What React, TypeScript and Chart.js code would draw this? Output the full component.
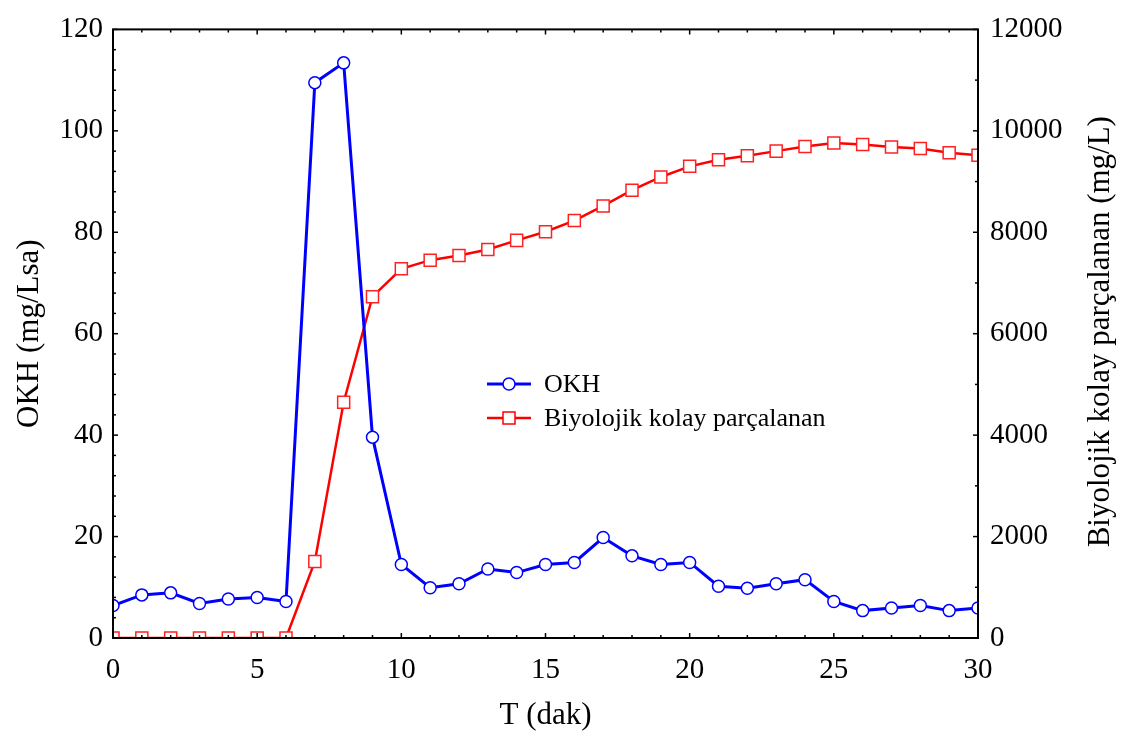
import { useEffect, useRef } from "react";
import { Chart, registerables } from "chart.js";

Chart.register(...registerables);

const times = [0, 1, 2, 3, 4, 5, 6, 7, 8, 9, 10, 11, 12, 13, 14, 15, 16, 17, 18, 19, 20, 21, 22, 23, 24, 25, 26, 27, 28, 29, 30];
const okh = [6.4, 8.5, 8.9, 6.8, 7.7, 8.0, 7.2, 109.5, 113.4, 39.6, 14.5, 9.9, 10.7, 13.6, 12.9, 14.5, 14.9, 19.8, 16.2, 14.5, 14.9, 10.2, 9.8, 10.7, 11.5, 7.2, 5.4, 5.9, 6.4, 5.4, 5.9];
const biyo = [0, 0, 0, 0, 0, 0, 0, 1510, 4650, 6730, 7280, 7450, 7540, 7660, 7840, 8010, 8230, 8520, 8830, 9090, 9300, 9430, 9510, 9600, 9690, 9760, 9730, 9680, 9650, 9570, 9520];

const seriesNames = ["OKH", "Biyolojik kolay parçalanan"];
const xTitle = "T (dak)";
const yTitle = "OKH (mg/Lsa)";
const y1Title = "Biyolojik kolay parçalanan (mg/L)";

const xRange = [0, 30, 5, 1];
const yRange = [0, 120, 20, 4];
const y1Range = [0, 12000, 2000, 1000];

const FONT = "'Liberation Serif', 'Times New Roman', serif";

const framePlugin = {
  id: "frame",
  afterDraw(chart: any) {
    const { ctx, chartArea: a, scales } = chart;
    ctx.save();
    ctx.strokeStyle = "#000";
    ctx.lineWidth = 1.5;
    const drawX = (v: number, len: number) => {
      const px = scales.x.getPixelForValue(v);
      ctx.beginPath();
      ctx.moveTo(px, a.bottom);
      ctx.lineTo(px, a.bottom - len);
      ctx.moveTo(px, a.top);
      ctx.lineTo(px, a.top + len);
      ctx.stroke();
    };
    for (let v = xRange[0]; v <= xRange[1]; v += xRange[3]) {
      drawX(v, v % xRange[2] === 0 ? 5 : 3);
    }
    for (let v = yRange[0]; v <= yRange[1]; v += yRange[3]) {
      const py = scales.y.getPixelForValue(v);
      const len = v % yRange[2] === 0 ? 5 : 3;
      ctx.beginPath();
      ctx.moveTo(a.left, py);
      ctx.lineTo(a.left + len, py);
      ctx.stroke();
    }
    for (let v = y1Range[0]; v <= y1Range[1]; v += y1Range[3]) {
      const py = scales.y1.getPixelForValue(v);
      const len = v % y1Range[2] === 0 ? 5 : 3;
      ctx.beginPath();
      ctx.moveTo(a.right, py);
      ctx.lineTo(a.right - len, py);
      ctx.stroke();
    }
    ctx.lineWidth = 2;
    ctx.strokeRect(a.left, a.top, a.right - a.left, a.bottom - a.top);

    ctx.fillStyle = "#000";
    ctx.font = `31px ${FONT}`;
    ctx.textAlign = "center";
    ctx.textBaseline = "middle";
    ctx.translate(1101, (a.top + a.bottom) / 2 - 2);
    ctx.rotate(-Math.PI / 2);
    ctx.fillText(y1Title, 0, 0);
    ctx.restore();

    ctx.save();
    const rows = [
      { y: 384, color: "#0000ff", shape: "circle", lw: 3 },
      { y: 418, color: "#ff0000", shape: "rect", lw: 2.5 },
    ];
    rows.forEach((r, i) => {
      ctx.strokeStyle = r.color;
      ctx.lineWidth = r.lw;
      ctx.beginPath();
      ctx.moveTo(487, r.y);
      ctx.lineTo(531, r.y);
      ctx.stroke();
      ctx.fillStyle = "#fff";
      ctx.lineWidth = 1.5;
      ctx.beginPath();
      if (r.shape === "circle") {
        ctx.arc(509, r.y, 6, 0, Math.PI * 2);
      } else {
        ctx.rect(503, r.y - 6, 12, 12);
      }
      ctx.fill();
      ctx.stroke();
      ctx.fillStyle = "#000";
      ctx.font = `26px ${FONT}`;
      ctx.textAlign = "left";
      ctx.textBaseline = "middle";
      ctx.fillText(seriesNames[i], 544, r.y + 1);
    });
    ctx.restore();
  },
};

export default function App() {
  const ref = useRef<HTMLCanvasElement | null>(null);
  useEffect(() => {
    if (!ref.current) return;
    const chart = new Chart(ref.current, {
      type: "line",
      data: {
        datasets: [
          {
            label: seriesNames[0],
            data: times.map((t, i) => ({ x: t, y: okh[i] })),
            yAxisID: "y",
            borderColor: "#0000ff",
            borderWidth: 3,
            pointStyle: "circle",
            pointRadius: 6,
            pointBorderWidth: 1.5,
            pointBorderColor: "#0000ff",
            pointBackgroundColor: "#ffffff",
            tension: 0,
            clip: 0,
          },
          {
            label: seriesNames[1],
            data: times.map((t, i) => ({ x: t, y: biyo[i] })),
            yAxisID: "y1",
            borderColor: "#ff0000",
            borderWidth: 2.5,
            pointStyle: "rect",
            pointRadius: 8.5,
            pointBorderWidth: 1.5,
            pointBorderColor: "#ff2020",
            pointBackgroundColor: "#ffffff",
            tension: 0,
            clip: 0,
          },
        ],
      },
      options: {
        animation: false,
        responsive: false,
        devicePixelRatio: 1,
        layout: { padding: { top: 18, left: 0, right: 0, bottom: 0 } },
        plugins: { legend: { display: false }, tooltip: { enabled: false } },
        scales: {
          x: {
            type: "linear",
            position: "bottom",
            min: xRange[0],
            max: xRange[1],
            ticks: { stepSize: xRange[2], color: "#000", padding: 15, font: { family: FONT, size: 29 }, callback: (v: any) => String(v) },
            grid: { display: false, drawTicks: false },
            border: { display: false },
            title: { display: true, text: xTitle, color: "#000", font: { family: FONT, size: 31 }, padding: { top: 0, bottom: 6 } },
            afterFit: (s: any) => { s.height = 102; },
          },
          y: {
            type: "linear",
            position: "left",
            min: yRange[0],
            max: yRange[1],
            ticks: { stepSize: yRange[2], color: "#000", padding: 10, font: { family: FONT, size: 29 }, callback: (v: any) => String(v) },
            grid: { display: false, drawTicks: false },
            border: { display: false },
            title: { display: true, text: yTitle, color: "#000", font: { family: FONT, size: 31 }, padding: { top: 11, bottom: 0 } },
            afterFit: (s: any) => { s.width = 113; },
          },
          y1: {
            type: "linear",
            position: "right",
            min: y1Range[0],
            max: y1Range[1],
            ticks: { stepSize: y1Range[2], color: "#000", padding: 12, font: { family: FONT, size: 29 }, callback: (v: any) => String(v) },
            grid: { display: false, drawTicks: false },
            border: { display: false },
            afterFit: (s: any) => { s.width = 153; },
          },
        },
      },
      plugins: [framePlugin],
    });
    return () => chart.destroy();
  }, []);
  return (
    <div style={{ position: "fixed", left: 0, top: 0, width: 1131, height: 740, background: "#fff" }}>
      <canvas ref={ref} width={1131} height={740} style={{ display: "block" }} />
    </div>
  );
}
